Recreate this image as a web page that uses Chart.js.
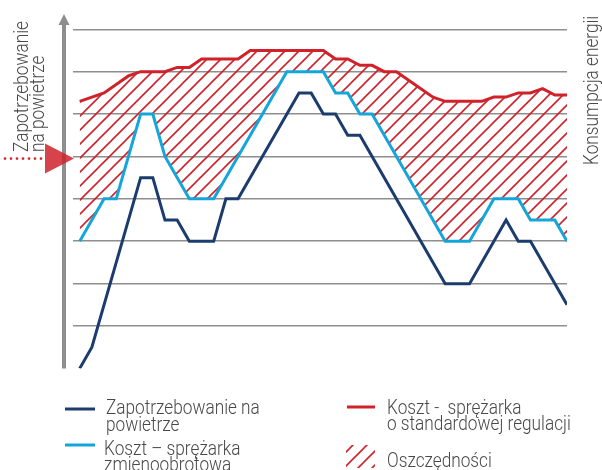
<!DOCTYPE html>
<html>
<head>
<meta charset="utf-8">
<script src="https://cdn.jsdelivr.net/npm/chart.js@4"></script>
<style>
  html, body { margin: 0; padding: 0; background: #fff; }
  canvas { display: block; }
</style>
</head>
<body>
<canvas id="chart" width="602" height="470"></canvas>
<script>
// time steps (x) and levels (y)
const demandSteps = [0, 1, 5, 6, 7, 8, 9, 11, 12, 13, 18, 19, 20, 21, 22, 23, 30, 32, 35, 36, 37, 40];
const demandValues = [0, 0.5, 4.5, 4.5, 3.5, 3.5, 3, 3, 4, 4, 6.5, 6.5, 6, 6, 5.5, 5.5, 2, 2, 3.5, 3, 3, 1.5];

const variableSteps = [0, 2, 3, 5, 6, 7, 9, 11, 17, 20, 21, 22, 23, 24, 30, 32, 34, 36, 37, 39, 40];
const variableValues = [3, 4, 4, 6, 6, 5, 4, 4, 7, 7, 6.5, 6.5, 6, 6, 3, 3, 4, 4, 3.5, 3.5, 3];

const standardSteps = [0, 2, 4, 5, 7, 8, 9, 10, 13, 14, 20, 21, 22, 23, 24, 25, 26, 29, 30, 33, 34, 35, 36, 37, 38, 39, 40];
const standardValues = [6.3, 6.5, 6.9, 7, 7, 7.1, 7.1, 7.3, 7.3, 7.5, 7.5, 7.3, 7.3, 7.15, 7.15, 7, 7, 6.4, 6.3, 6.3, 6.4, 6.4, 6.5, 6.5, 6.6, 6.45, 6.45];

const gridLevels = [1, 2, 3, 4, 5, 6, 7, 8];
const markerLevel = 4.95;

const yTitle = ['Zapotrzebowanie', 'na powietrze'];
const rightTitle = 'Konsumpcja energii';
const legendDemand = ['Zapotrzebowanie na', 'powietrze'];
const legendVariable = ['Koszt \u2013 spr\u0119\u017carka', 'zmienoobrotowa'];
const legendStandard = ['Koszt -  spr\u0119\u017carka', 'o standardowej regulacji'];
const legendSavings = 'Oszcz\u0119dno\u015bci';

const NAVY = '#1d3c6e';
const CYAN = '#14a6da';
const RED = '#d0222b';
const GREY = '#8e8e8e';
const TEXT = '#484848';
const FONT = '300 21px Roboto, "Open Sans", sans-serif';
const SQUEEZE = 0.82; // the original lettering is a condensed face

const toPoints = (xs, ys) => xs.map((x, i) => ({ x: x, y: ys[i] }));

const canvas = document.getElementById('chart');
const ctx = canvas.getContext('2d');

// diagonal red hatching for the savings area
const makeHatch = (c) => {
  const s = 14;
  const tile = document.createElement('canvas');
  tile.width = s;
  tile.height = s;
  const g = tile.getContext('2d');
  g.strokeStyle = RED;
  g.lineWidth = 1.6;
  g.beginPath();
  g.moveTo(0, s); g.lineTo(s, 0);
  g.moveTo(-s / 2, s / 2); g.lineTo(s / 2, -s / 2);
  g.moveTo(s / 2, s * 1.5); g.lineTo(s * 1.5, s / 2);
  g.stroke();
  return c.createPattern(tile, 'repeat');
};
const hatch = makeHatch(ctx);

// text drawn narrower to mimic the condensed font
const squeezedText = (c, text, x, y, angle) => {
  c.save();
  c.translate(x, y);
  if (angle) c.rotate(angle);
  c.scale(SQUEEZE, 1);
  c.fillText(text, 0, 0);
  c.restore();
};

const decorations = {
  id: 'decorations',
  afterDraw(chart) {
    const c = chart.ctx;
    const area = chart.chartArea;
    const yScale = chart.scales.y;
    c.save();

    // vertical axis with arrow head
    c.strokeStyle = GREY;
    c.fillStyle = GREY;
    c.lineWidth = 4;
    c.beginPath();
    c.moveTo(64, area.bottom);
    c.lineTo(64, 22);
    c.stroke();
    c.beginPath();
    c.moveTo(58.5, 25);
    c.lineTo(64, 14);
    c.lineTo(69.5, 25);
    c.closePath();
    c.fill();

    // red level marker
    const my = yScale.getPixelForValue(markerLevel);
    c.fillStyle = RED;
    for (let x = 5; x <= 42; x += 6) {
      c.beginPath();
      c.arc(x, my, 1.3, 0, Math.PI * 2);
      c.fill();
    }
    c.globalAlpha = 0.85;
    c.beginPath();
    c.moveTo(45, my - 15);
    c.lineTo(74, my);
    c.lineTo(45, my + 15);
    c.closePath();
    c.fill();
    c.globalAlpha = 1;

    // axis titles
    c.font = FONT;
    c.fillStyle = TEXT;
    c.textAlign = 'left';
    c.textBaseline = 'alphabetic';
    squeezedText(c, yTitle[0], 28, 152, -Math.PI / 2);
    squeezedText(c, yTitle[1], 44, 152, -Math.PI / 2);
    squeezedText(c, rightTitle, 598, 165, -Math.PI / 2);

    // legend
    c.lineWidth = 3;
    c.strokeStyle = NAVY;
    c.beginPath(); c.moveTo(65, 409); c.lineTo(95, 409); c.stroke();
    c.strokeStyle = CYAN;
    c.beginPath(); c.moveTo(65, 445); c.lineTo(95, 445); c.stroke();
    c.strokeStyle = RED;
    c.beginPath(); c.moveTo(347, 407); c.lineTo(375, 407); c.stroke();
    c.fillStyle = hatch;
    c.fillRect(346, 445, 29, 23);

    c.fillStyle = TEXT;
    squeezedText(c, legendDemand[0], 106, 414);
    squeezedText(c, legendDemand[1], 106, 431);
    squeezedText(c, legendVariable[0], 104, 455);
    squeezedText(c, legendVariable[1], 104, 471);
    squeezedText(c, legendStandard[0], 387, 414);
    squeezedText(c, legendStandard[1], 387, 430);
    squeezedText(c, legendSavings, 387, 467);

    c.restore();
  }
};

new Chart(ctx, {
  type: 'line',
  data: {
    datasets: [
      {
        label: 'Zapotrzebowanie na powietrze',
        data: toPoints(demandSteps, demandValues),
        borderColor: NAVY,
        borderWidth: 3,
        pointRadius: 0,
        fill: false
      },
      {
        label: 'Koszt \u2013 spr\u0119\u017carka zmienoobrotowa',
        data: toPoints(variableSteps, variableValues),
        borderColor: CYAN,
        borderWidth: 3,
        pointRadius: 0,
        fill: false
      },
      {
        label: 'Koszt - spr\u0119\u017carka o standardowej regulacji',
        data: toPoints(standardSteps, standardValues),
        borderColor: RED,
        backgroundColor: hatch,
        borderWidth: 3,
        pointRadius: 0,
        fill: 1
      }
    ]
  },
  options: {
    responsive: false,
    animation: false,
    layout: { padding: { left: 73, right: 35, top: 29.3, bottom: 101.6 } },
    plugins: {
      legend: { display: false },
      tooltip: { enabled: false }
    },
    scales: {
      x: {
        type: 'linear',
        min: -0.55,
        max: 40,
        ticks: { display: false },
        grid: { display: false },
        border: { display: false },
        afterFit: (scale) => { scale.height = 0; }
      },
      y: {
        min: 0,
        max: 8,
        afterBuildTicks: (scale) => { scale.ticks = gridLevels.map(v => ({ value: v })); },
        ticks: { display: false },
        grid: { color: GREY, lineWidth: 1.5, drawTicks: false },
        border: { display: false },
        afterFit: (scale) => { scale.width = 0; }
      }
    }
  },
  plugins: [decorations]
});
</script>
</body>
</html>
